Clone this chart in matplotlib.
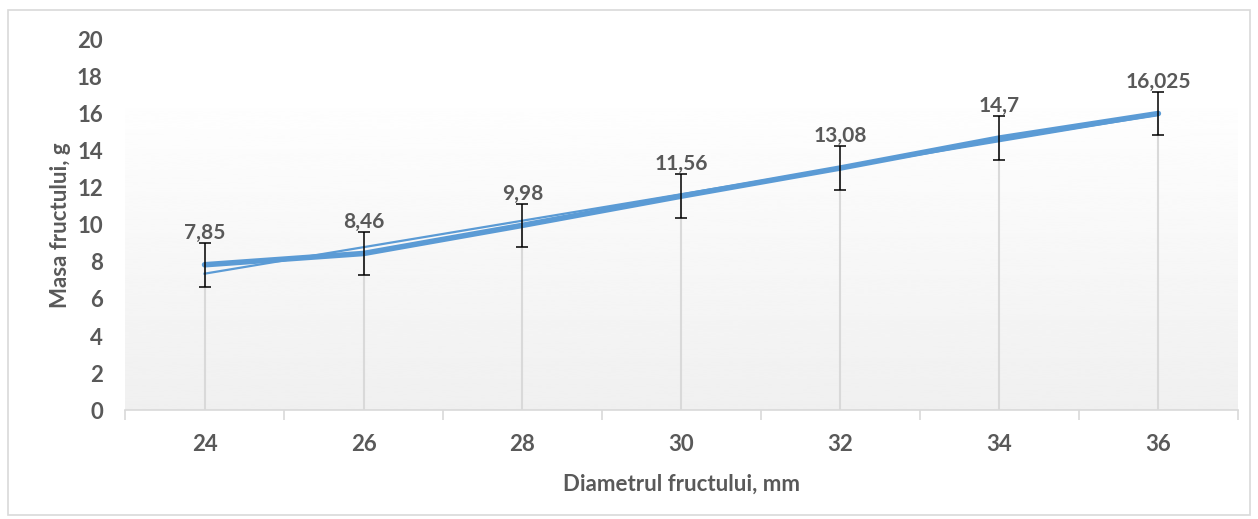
import matplotlib
matplotlib.use("Agg")
import matplotlib.pyplot as plt
import numpy as np
from matplotlib.patches import Rectangle

# data
diam = ["24", "26", "28", "30", "32", "34", "36"]
mass = [7.85, 8.46, 9.98, 11.56, 13.08, 14.7, 16.025]
err = [1.18, 1.18, 1.18, 1.18, 1.18, 1.18, 1.18]

blue = "#5b9bd5"
txt = "#595959"
plt.rcParams["font.family"] = ["Lato", "DejaVu Sans"]
plt.rcParams["font.weight"] = "bold"

fig = plt.figure(figsize=(12.58, 5.19), dpi=100)
ax = fig.add_axes([0.0994, 0.210, 0.8846, 0.713])

x = np.arange(len(mass))
ax.set_xlim(-0.5, len(mass) - 0.5)
ax.set_ylim(0, 20)

# plot-area gradient (white at top, light grey at bottom)
grad = np.linspace(1.0, 0.94, 256).reshape(-1, 1)
ax.imshow(grad, cmap="gray", vmin=0, vmax=1, aspect="auto",
          extent=(-0.5, len(mass) - 0.5, 0, 17.4), zorder=0, interpolation="bicubic")

# drop lines
ax.vlines(x, 0, mass, color="#d9d9d9", lw=1.5, zorder=1)

# linear trend line
k, b = np.polyfit(x, mass, 1)
ax.plot(x, k * x + b, color=blue, lw=1.6, zorder=2)

ax.plot(x, mass, color=blue, lw=4, solid_capstyle="round", zorder=3)
ax.errorbar(x, mass, yerr=err, fmt="none", ecolor="black", elinewidth=1.1,
            capsize=4.5, capthick=1.1, zorder=4)

for xi, v, e in zip(x, mass, err):
    ax.annotate(str(v).replace(".", ","), (xi, v + e), xytext=(0, 0),
                textcoords="offset points", ha="center", va="bottom",
                fontsize=15, fontweight="bold", color=txt, zorder=5)

for s in ["top", "right", "left"]:
    ax.spines[s].set_visible(False)
ax.spines["bottom"].set_color("#d9d9d9")
ax.spines["bottom"].set_linewidth(1.2)

ax.set_yticks(range(0, 21, 2))
ax.set_xticks(x)
ax.set_xticklabels(diam)
ax.set_xticks(np.arange(-0.5, len(mass)), minor=True)
ax.tick_params(axis="y", length=0, pad=16, labelsize=16, labelcolor=txt)
ax.tick_params(axis="x", which="major", length=0, pad=17, labelsize=16, labelcolor=txt)
ax.tick_params(axis="x", which="minor", length=7, width=1.2, color="#d9d9d9")

ax.set_xlabel("Diametrul fructului, mm", fontsize=16, fontweight="bold", color=txt, labelpad=14)
ax.set_ylabel("Masa fructului, g", fontsize=16, fontweight="bold", color=txt, labelpad=4)

fig.patches.append(Rectangle((0.006, 0.008), 0.988, 0.972, transform=fig.transFigure,
                             fill=False, edgecolor="#d9d9d9", lw=1.2))

fig.savefig("out.png", dpi=100)
